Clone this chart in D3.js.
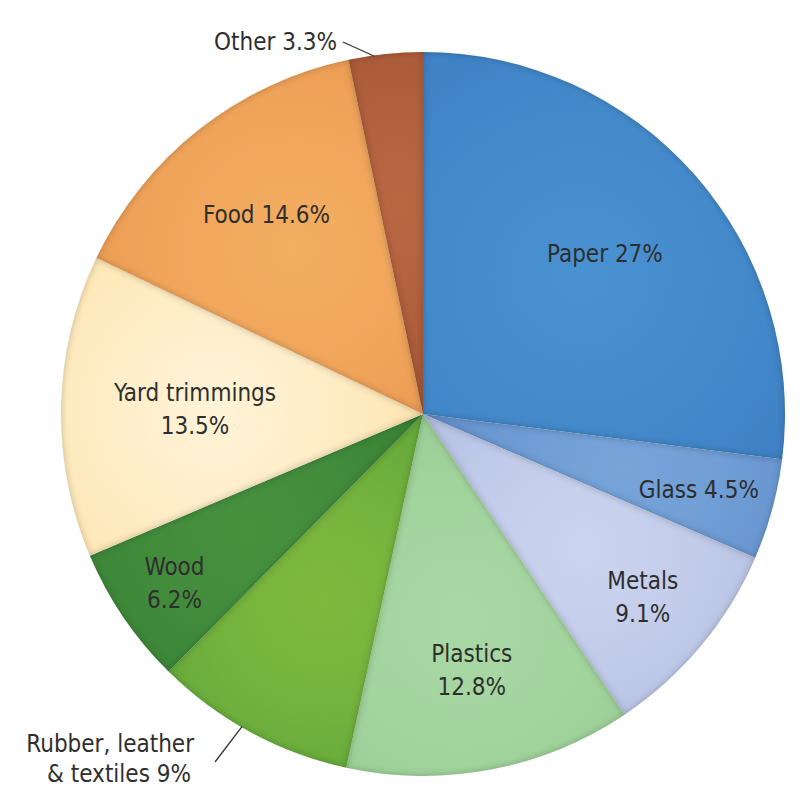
<!DOCTYPE html>
<html>
<head>
<meta charset="utf-8">
<script src="https://cdn.jsdelivr.net/npm/d3@7"></script>
<style>
  body { margin: 0; background: #fff; }
  text { font-family: "Liberation Sans Narrow", "DejaVu Sans Condensed", "Open Sans", sans-serif; fill: #2e2e2e; }
</style>
</head>
<body>
<div id="chart"></div>
<script>
// slices, clockwise from 12 o'clock
const categories = ["Paper", "Glass", "Metals", "Plastics", "Rubber, leather & textiles", "Wood", "Yard trimmings", "Food", "Other"];
const shares = [27, 4.5, 9.1, 12.8, 9, 6.2, 13.5, 14.6, 3.3];
const labelLines = [
  ["Paper 27%"], ["Glass 4.5%"], ["Metals", "9.1%"], ["Plastics", "12.8%"],
  ["Rubber, leather", "& textiles 9%"], ["Wood", "6.2%"], ["Yard trimmings", "13.5%"],
  ["Food 14.6%"], ["Other 3.3%"]
];
// edge colour and highlight colour of each slice
const colors = ["#3c7fc2", "#6794cf", "#b1bee2", "#96cb92", "#5fa63b", "#3a8437", "#fde0a0", "#ea934e", "#aa5a38"];
const highlights = ["#4a92d2", "#77a5da", "#ccd5ef", "#a9d9a5", "#7fba3e", "#47903e", "#fff3d8", "#f3ae62", "#b86841"];

const width = 800, height = 800;
const cx = 423, cy = 414, R = 362;

// where the inside labels sit, as fraction of the radius
const labelRadius = [0.67, 0.79, 0.79, 0.72, null, 0.83, 0.63, 0.70, null];
const lineH = 33;

const svg = d3.select("#chart").append("svg")
  .attr("width", width)
  .attr("height", height);

const defs = svg.append("defs");

// soft inner shadow along slice edges
const f = defs.append("filter").attr("id", "inner")
  .attr("color-interpolation-filters", "sRGB")
  .attr("x", "-5%").attr("y", "-5%").attr("width", "110%").attr("height", "110%");
f.append("feFlood").attr("flood-color", "#000").attr("flood-opacity", 0.22).attr("result", "fl");
f.append("feComposite").attr("in", "fl").attr("in2", "SourceAlpha").attr("operator", "out").attr("result", "outside");
f.append("feGaussianBlur").attr("in", "outside").attr("stdDeviation", 3.5).attr("result", "blur");
f.append("feComposite").attr("in", "blur").attr("in2", "SourceAlpha").attr("operator", "in").attr("result", "shadow");
const fm = f.append("feMerge");
fm.append("feMergeNode").attr("in", "SourceGraphic");
fm.append("feMergeNode").attr("in", "shadow");

const data = categories.map((name, i) => ({ name, value: shares[i], i }));

const pie = d3.pie().value(d => d.value).sort(null);
const arcs = pie(data);
const arc = d3.arc().innerRadius(0).outerRadius(R);

const polar = (a, r) => [Math.sin(a) * r, -Math.cos(a) * r];

// one radial gradient per slice, lightest around the slice's middle
arcs.forEach(d => {
  const mid = (d.startAngle + d.endAngle) / 2;
  const [gx, gy] = polar(mid, R * 0.58);
  const span = d.endAngle - d.startAngle;
  const gr = R * Math.min(0.85, 0.35 + span * 0.5);
  const g = defs.append("radialGradient")
    .attr("id", "grad" + d.data.i)
    .attr("gradientUnits", "userSpaceOnUse")
    .attr("cx", gx).attr("cy", gy).attr("r", gr);
  g.append("stop").attr("offset", 0).attr("stop-color", highlights[d.data.i]);
  g.append("stop").attr("offset", 0.45).attr("stop-color", d3.interpolateRgb(highlights[d.data.i], colors[d.data.i])(0.35));
  g.append("stop").attr("offset", 1).attr("stop-color", colors[d.data.i]);
});

const g = svg.append("g").attr("transform", `translate(${cx},${cy})`);

g.selectAll("path.slice")
  .data(arcs)
  .join("path")
  .attr("class", "slice")
  .attr("d", arc)
  .attr("fill", d => `url(#grad${d.data.i})`)
  .attr("filter", "url(#inner)");

// inside labels
arcs.forEach(d => {
  const k = labelRadius[d.data.i];
  if (k == null) return;
  const mid = (d.startAngle + d.endAngle) / 2;
  const [x, y] = polar(mid, R * k);
  const lines = labelLines[d.data.i];
  const t = g.append("text")
    .attr("text-anchor", "middle")
    .style("font-size", "24px");
  lines.forEach((ln, j) => {
    t.append("tspan")
      .attr("x", x)
      .attr("y", y + (j - (lines.length - 1) / 2) * lineH)
      .attr("dy", "0.35em")
      .text(ln);
  });
});

// outside labels with leader lines
const outside = [
  { i: 8, angFrac: 0.35, lineOut: [-80, -372], textAt: [-86, -372] },
  { i: 4, angFrac: 0.55, lineOut: [-208, 348], textAt: [-229, 330] }
];
outside.forEach(o => {
  const d = arcs[o.i];
  const a = d.startAngle + (d.endAngle - d.startAngle) * o.angFrac;
  const [x0, y0] = polar(a, R - 1);
  g.append("line")
    .attr("x1", x0).attr("y1", y0)
    .attr("x2", o.lineOut[0]).attr("y2", o.lineOut[1])
    .attr("stroke", "#333").attr("stroke-width", 1.3);
  const lines = labelLines[o.i];
  const t = g.append("text")
    .attr("text-anchor", "end")
    .style("font-size", "24px");
  lines.forEach((ln, j) => {
    t.append("tspan")
      .attr("x", o.textAt[0] + (o.i === 4 && j === 1 ? -3 : 0))
      .attr("y", o.textAt[1] + j * 30)
      .attr("dy", "0.35em")
      .text(ln);
  });
});
</script>
</body>
</html>
